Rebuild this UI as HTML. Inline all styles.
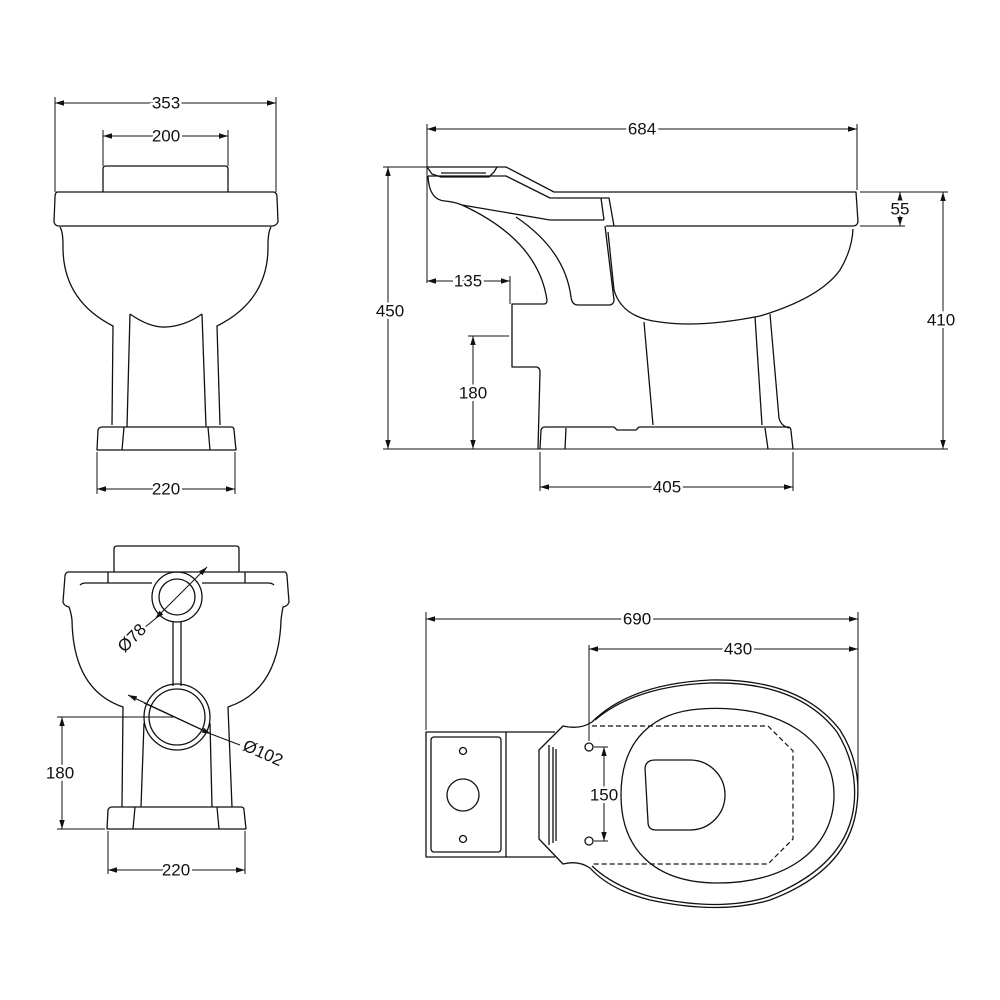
<!DOCTYPE html>
<html><head><meta charset="utf-8"><style>
html,body{margin:0;padding:0;background:#fff}
svg{display:block}
text{font-family:"Liberation Sans",sans-serif;font-size:17px;fill:#111;paint-order:stroke;stroke:#fff;stroke-width:5px;text-anchor:middle;dominant-baseline:central}
.l{fill:none;stroke:#111;stroke-width:1.3;stroke-linejoin:round}
.d{fill:none;stroke:#111;stroke-width:1}
.ds{fill:none;stroke:#111;stroke-width:1.2;stroke-dasharray:5,3}
</style></head><body>
<svg width="1000" height="1000" viewBox="0 0 1000 1000">
<defs>
<marker id="a" viewBox="0 0 10 10" refX="10" refY="5" markerWidth="9" markerHeight="9" orient="auto-start-reverse" markerUnits="userSpaceOnUse"><path d="M0,2 L10,5 L0,8 Z" fill="#111"/></marker>
</defs>

<g>
<line class="d" x1="55" y1="97" x2="55" y2="192"/><line class="d" x1="276" y1="97" x2="276" y2="192"/>
<line class="d" x1="55" y1="103" x2="276" y2="103" marker-start="url(#a)" marker-end="url(#a)"/>
<text x="166" y="103">353</text>
<line class="d" x1="103" y1="130" x2="103" y2="166"/><line class="d" x1="228" y1="130" x2="228" y2="166"/>
<line class="d" x1="103" y1="136" x2="228" y2="136" marker-start="url(#a)" marker-end="url(#a)"/>
<text x="166" y="136">200</text>
<path class="l" d="M103,192 L103,169 Q103,166 106,166 L225,166 Q228,166 228,169 L228,192"/>
<path class="l" d="M57,192 L274,192 Q277,193 277,197 L278,222 Q276,226 272,226 L59,226 Q55,226 54,222 L55,197 Q55,193 57,192 Z"/>
<path class="l" d="M60,227 Q63,232 63,245 Q62,300 113,326 L112,425"/>
<path class="l" d="M271,227 Q268,232 268,245 Q269,300 217,326 L220,425"/>
<path class="l" d="M130,314 Q150,328 166,327 Q185,326 202,314"/>
<line class="l" x1="130" y1="314" x2="127" y2="427"/><line class="l" x1="202" y1="314" x2="206" y2="427"/>
<path class="l" d="M97,450 L98,430 Q99,427 102,427 L231,427 Q234,427 234,430 L236,450 Z"/>
<line class="l" x1="124" y1="427" x2="122" y2="450"/><line class="l" x1="208" y1="427" x2="210" y2="450"/>
<line class="d" x1="97" y1="452" x2="97" y2="494"/><line class="d" x1="235" y1="452" x2="235" y2="494"/>
<line class="d" x1="97" y1="489" x2="235" y2="489" marker-start="url(#a)" marker-end="url(#a)"/>
<text x="166" y="489">220</text>
</g>

<g>
<line class="d" x1="427" y1="124" x2="427" y2="283"/><line class="d" x1="857" y1="124" x2="857" y2="190"/>
<line class="d" x1="427" y1="129" x2="857" y2="129" marker-start="url(#a)" marker-end="url(#a)"/>
<text x="642" y="129">684</text>
<line class="d" x1="383" y1="167" x2="430" y2="167"/>
<line class="d" x1="388" y1="167" x2="388" y2="449" marker-start="url(#a)" marker-end="url(#a)"/>
<text x="390" y="311">450</text>
<line class="d" x1="383" y1="449" x2="948" y2="449"/>
<line class="d" x1="860" y1="192" x2="948" y2="192"/>
<line class="d" x1="943" y1="192" x2="943" y2="449" marker-start="url(#a)" marker-end="url(#a)"/>
<text x="941" y="320">410</text>
<line class="d" x1="860" y1="226" x2="905" y2="226"/>
<line class="d" x1="900" y1="192" x2="900" y2="226" marker-start="url(#a)" marker-end="url(#a)"/>
<text x="900" y="209">55</text>
<path class="l" d="M427,167 L506,167 L554,192 L856,192 L858,222 Q857,226 853,226 L606,226"/>
<path class="l" d="M427,167 L432,174 L441,177 L489,177 L494,172 L497,167"/>
<line class="l" x1="441" y1="173" x2="486" y2="173"/>
<path class="l" d="M428,176 L506,176 L550,198 L609,198 L614,226"/>
<line class="l" x1="601" y1="198" x2="604" y2="220"/>
<path class="l" d="M428,176 Q429,200 445,201 Q455,202 462,205 L550,220 L604,220"/>
<path class="l" d="M462,205 Q538,240 547,300 Q547,304 544,304 L512,304 L512,367 L537,367 Q540,368 540,372 L538,449"/>
<path class="l" d="M516,217 Q565,250 571,297 Q572,305 578,305 L610,305 Q614,304 614,300 L605,226"/>
<path class="l" d="M608,232 L614,290 Q622,318 660,322 Q700,328 760,316 Q820,298 840,270 Q852,250 853,229"/>
<line class="l" x1="644" y1="322" x2="653" y2="425"/>
<line class="l" x1="755" y1="317" x2="762" y2="425"/>
<path class="l" d="M770,314 L779,418 Q781,426 789,428"/>
<path class="l" d="M540,449 L541,430 Q542,427 545,427 L614,427 L617,430 L636,430 L639,427 L788,427 Q791,427 791,431 L793,449"/>
<line class="l" x1="566" y1="428" x2="565" y2="449"/><line class="l" x1="765" y1="428" x2="768" y2="449"/>
<line class="d" x1="510" y1="276" x2="510" y2="304"/>
<line class="d" x1="427" y1="281" x2="510" y2="281" marker-start="url(#a)" marker-end="url(#a)"/>
<text x="468" y="281">135</text>
<line class="d" x1="468" y1="336" x2="509" y2="336"/>
<line class="d" x1="473" y1="336" x2="473" y2="449" marker-start="url(#a)" marker-end="url(#a)"/>
<text x="473" y="393">180</text>
<line class="d" x1="540" y1="452" x2="540" y2="491"/><line class="d" x1="793" y1="452" x2="793" y2="491"/>
<line class="d" x1="540" y1="487" x2="793" y2="487" marker-start="url(#a)" marker-end="url(#a)"/>
<text x="667" y="487">405</text>
</g>

<g>
<path class="l" d="M114,572 L114,549 Q114,546 117,546 L236,546 Q239,546 239,549 L239,572"/>
<path class="l" d="M68,572 L285,572 Q287,573 287,576 L289,602 Q288,606 283,607 Q282,612 281,620 Q279,690 228,707 L232,807"/>
<path class="l" d="M68,572 Q65,573 65,576 L63,602 Q64,606 69,607 Q71,612 72,620 Q73,690 123,707 L122,807"/>
<path class="l" d="M80,585 Q82,583 86,583 L152,583"/><path class="l" d="M202,583 L268,583 Q272,583 274,585"/>
<line class="l" x1="108" y1="572" x2="108" y2="583"/><line class="l" x1="245" y1="572" x2="245" y2="583"/>
<circle class="l" cx="177" cy="597" r="25" fill="#fff"/><circle class="l" cx="177" cy="597" r="18"/>
<line class="l" x1="173" y1="621" x2="173" y2="686"/><line class="l" x1="181" y1="621" x2="181" y2="686"/>
<line class="l" x1="144" y1="723" x2="141" y2="807"/><line class="l" x1="210" y1="723" x2="212" y2="807"/>
<circle class="l" cx="177" cy="717" r="33" fill="#fff"/><circle class="l" cx="177" cy="717" r="28"/>
<path class="l" d="M107,829 L108,810 Q109,807 112,807 L241,807 Q244,807 244,810 L246,829 Z"/>
<line class="l" x1="135" y1="807" x2="133" y2="829"/><line class="l" x1="217" y1="807" x2="219" y2="829"/>
<line class="d" x1="207" y1="567" x2="155" y2="619" marker-start="url(#a)" marker-end="url(#a)"/>
<line class="d" x1="155" y1="619" x2="144" y2="628"/>
<text x="132" y="638" transform="rotate(-45 132 638)">Ø78</text>
<line class="d" x1="128" y1="695" x2="207" y2="732" marker-start="url(#a)"/>
<line class="d" x1="144" y1="703" x2="211" y2="734" marker-end="url(#a)"/>
<line class="d" x1="211" y1="734" x2="240" y2="745"/>
<text x="263" y="753" transform="rotate(24 263 753)">Ø102</text>
<line class="d" x1="57" y1="717" x2="175" y2="717"/>
<line class="d" x1="57" y1="829" x2="105" y2="829"/>
<line class="d" x1="62" y1="717" x2="62" y2="829" marker-start="url(#a)" marker-end="url(#a)"/>
<text x="60" y="773">180</text>
<line class="d" x1="108" y1="831" x2="108" y2="874"/><line class="d" x1="245" y1="831" x2="245" y2="874"/>
<line class="d" x1="108" y1="870" x2="245" y2="870" marker-start="url(#a)" marker-end="url(#a)"/>
<text x="176" y="870">220</text>
</g>

<g>
<line class="d" x1="426" y1="612" x2="426" y2="730"/><line class="d" x1="858" y1="612" x2="858" y2="790"/>
<line class="d" x1="426" y1="619" x2="858" y2="619" marker-start="url(#a)" marker-end="url(#a)"/>
<text x="637" y="619">690</text>
<line class="d" x1="589" y1="645" x2="589" y2="741"/>
<line class="d" x1="589" y1="649" x2="858" y2="649" marker-start="url(#a)" marker-end="url(#a)"/>
<text x="738" y="649">430</text>
<rect class="l" x="426" y="732" width="80" height="125"/>
<rect class="l" x="431" y="737" width="70" height="115" rx="3"/>
<circle class="l" cx="463" cy="751" r="3.5"/><circle class="l" cx="463" cy="839" r="3.5"/>
<circle class="l" cx="463" cy="795" r="16"/>
<line class="l" x1="506" y1="732" x2="555" y2="732"/><line class="l" x1="506" y1="857" x2="555" y2="857"/>
<path class="l" d="M539,750 L563,726 Q580,730 592,722 Q630,684 710,680 Q800,678 840,730 Q862,765 857,805 Q850,870 770,900 Q720,915 650,900 Q610,890 590,868 Q578,860 563,864 L539,839 Z"/>
<path class="l" d="M595,720 Q635,686 710,683 Q798,681 837,732 Q858,766 854,805 Q847,866 768,897 Q720,912 652,897 Q614,887 592,866"/>
<line class="l" x1="549" y1="745" x2="549" y2="845"/><line class="l" x1="553" y1="747" x2="553" y2="843"/><line class="l" x1="556" y1="749" x2="556" y2="841"/>
<path class="ds" d="M592,726 L768,726 L793,751 L793,839 L768,864 L592,864"/>
<path class="l" d="M621,795 C621,738 655,712 700,709 C780,703 834,740 834,795 C834,850 785,884 715,883 C655,882 621,850 621,795 Z"/>
<path class="l" d="M655,760 L690,760 A35,35 0 0 1 690,830 L656,830 Q648,830 648,822 L645,768 Q646,760 655,760 Z"/>
<circle class="l" cx="589" cy="747" r="4"/><circle class="l" cx="589" cy="841" r="4"/>
<line class="d" x1="594" y1="747" x2="608" y2="747"/><line class="d" x1="594" y1="841" x2="608" y2="841"/>
<line class="d" x1="604" y1="747" x2="604" y2="841" marker-start="url(#a)" marker-end="url(#a)"/>
<text x="604" y="795">150</text>
</g>
</svg>
</body></html>
